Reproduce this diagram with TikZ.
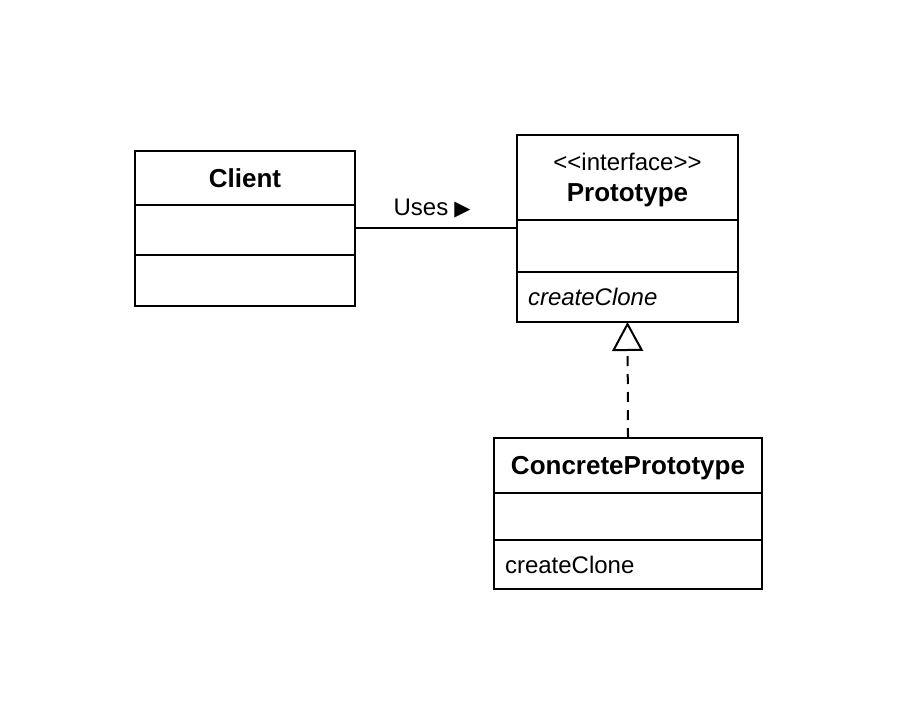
\documentclass[tikz,border=0pt]{standalone}
\usepackage{fontspec}
\setmainfont{Liberation Sans}
\newfontfamily\symfont{DejaVu Sans}
\usetikzlibrary{arrows.meta,positioning}

\begin{document}
\begin{tikzpicture}[x=0.5pt,y=-0.5pt]
	\useasboundingbox (0,0) rectangle (897,726);
	\begin{scope}[every node/.style={rectangle,draw,line width=1pt,inner sep=0pt,outer sep=0pt,font=\fontsize{12}{15}\selectfont}]
		% Client
		\node[minimum width=110pt,minimum height=27pt,font=\fontsize{13}{15}\selectfont\bfseries] (client) at (245,178) {Client};
		\node[minimum width=110pt,minimum height=25pt,below=0pt of client] (clientattr) {};
		\node[minimum width=110pt,minimum height=25.5pt,below=0pt of clientattr] (clientmeth) {};
		% Prototype
		\node[minimum width=110.5pt,minimum height=42.5pt,align=center,text depth=0pt] (proto) at (627.5,177.5) {<\kern0pt<\kern0pt interface>\kern0pt>\\[0.5pt] \fontsize{13}{15}\selectfont\bfseries Prototype};
		\node[minimum width=110.5pt,minimum height=26pt,below=0pt of proto] (protoattr) {};
		\node[minimum width=110.5pt,minimum height=25pt,below=0pt of protoattr,inner xsep=5.5pt,text width=99.5pt,align=left] (protometh) {\itshape createClone};
		% ConcretePrototype
		\node[minimum width=134pt,minimum height=27.5pt,text depth=0pt,font=\fontsize{13}{15}\selectfont\bfseries] (concrete) at (628,465.5) {ConcretePrototype};
		\node[minimum width=134pt,minimum height=23.5pt,below=0pt of concrete] (concreteattr) {};
		\node[minimum width=134pt,minimum height=24.5pt,below=0pt of concreteattr,inner xsep=5.5pt,text width=123pt,align=left] (concretemeth) {createClone};
	\end{scope}

	\begin{scope}
	\coordinate (usesA) at ([yshift=1pt]clientattr.east);
	\coordinate (usesB) at (usesA -| protoattr.west);
	\draw[line width=1pt] (usesA) -- (usesB) node[midway,above=4.5pt,xshift=-2pt,inner sep=0pt,font=\fontsize{12}{15}\selectfont] (uses) {Uses\hspace{3pt}{\symfont\fontsize{10.5}{10}\selectfont ▶}};
	\draw[line width=1pt,dash pattern=on 5pt off 4pt,-{Triangle[open,length=14.5pt,width=15.5pt]}] (concrete.north) -- (protometh.south);
	\end{scope}
\end{tikzpicture}
\end{document}
